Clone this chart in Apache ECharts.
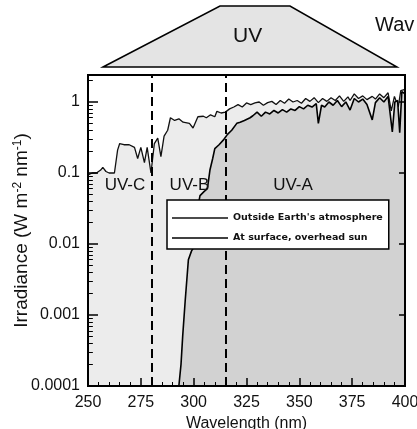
<!DOCTYPE html>
<html>
<head>
<meta charset="utf-8">
<script src="https://cdn.jsdelivr.net/npm/echarts@6/dist/echarts.min.js"></script>
<style>
  html, body { margin: 0; padding: 0; background: #fff; }
  #main { width: 417px; height: 429px; }
</style>
</head>
<body>
<div id="main"></div>
<script>
// spectrum outside the atmosphere
var outsideWl = [250, 252, 254, 256, 257, 258.5, 260, 262.5, 264, 265, 267, 269.5, 272, 273.5, 275, 276.7, 278, 279.8,
  281.4, 283, 284.5, 286, 287.7, 289, 291, 293, 295, 298, 299.7, 302, 304.6, 306, 308, 310, 311, 313, 315, 317,
  319, 321, 323, 325, 327, 329, 331, 333, 335, 337, 339, 341, 343, 345, 347, 349, 351, 353, 355, 357, 359, 361,
  363, 365, 367, 369, 371, 373, 374, 376, 378, 380, 382, 384.5, 386, 388, 390, 392, 393.5, 395, 396.8, 398, 400];
var outsideVal = [0.094, 0.1, 0.1, 0.11, 0.12, 0.105, 0.1, 0.1, 0.21, 0.26, 0.25, 0.25, 0.23, 0.16, 0.23, 0.14, 0.23, 0.1,
  0.26, 0.31, 0.17, 0.33, 0.4, 0.6, 0.55, 0.58, 0.52, 0.5, 0.43, 0.62, 0.63, 0.6, 0.66, 0.62, 0.74, 0.7, 0.72, 0.8,
  0.85, 0.92, 0.85, 0.97, 0.92, 0.97, 1.0, 0.9, 0.98, 1.02, 0.92, 1.05, 0.96, 1.1, 1.0, 1.05, 0.96, 1.12, 1.02, 1.15, 0.98, 1.12,
  1.02, 1.15, 1.05, 1.22, 1.02, 1.18, 1.05, 1.3, 1.12, 1.22, 1.08, 1.2, 1.1, 1.3, 1.15, 1.35, 0.75, 1.2, 0.85, 1.45, 1.5];

// spectrum at the surface, overhead sun
var surfaceWl = [293, 294, 294.8, 296, 297.5, 299, 300.6, 301.7, 303, 305, 306.5, 307.7, 309, 310, 312, 314, 316, 318,
  320.4, 322, 324, 326.7, 328, 330, 332, 334, 336, 338, 340, 342, 344, 346, 348, 350, 352, 354, 356, 358, 359,
  360.5, 362, 364, 366, 368, 370, 372, 374, 376, 378, 380, 382, 384.5, 386, 388, 390, 392, 394, 395.2, 396.5,
  397.5, 398.5, 400];
var surfaceVal = [0.0001, 0.0002, 0.0005, 0.0016, 0.006, 0.008, 0.0095, 0.03, 0.048, 0.055, 0.06, 0.11, 0.16, 0.22, 0.25, 0.29, 0.35, 0.4,
  0.5, 0.52, 0.55, 0.6, 0.64, 0.72, 0.63, 0.72, 0.68, 0.76, 0.7, 0.78, 0.72, 0.8, 0.76, 0.86, 0.8, 0.9, 0.85, 0.95, 0.5,
  0.9, 0.85, 1.0, 0.9, 1.05, 0.86, 1.0, 0.77, 1.12, 1.0, 1.1, 0.92, 0.56, 0.98, 1.15, 1.0, 1.2, 0.38, 1.0, 1.05,
  0.37, 1.4, 1.3];

var bandEdges = [280, 315];
var bandLabels = [
  { name: 'UV-C', x: 267.5, y: 0.068 },
  { name: 'UV-B', x: 298, y: 0.068 },
  { name: 'UV-A', x: 347, y: 0.068 }
];
// minor ticks of the log axis: 2..9 in each decade
var decades = [0.0001, 0.001, 0.01, 0.1, 1];
var minorSteps = [2, 3, 4, 5, 6, 7, 8, 9];

var font = 'Liberation Sans';
var chart = echarts.init(document.getElementById('main'));

function pairs(xs, ys) {
  return xs.map(function (x, i) { return [x, ys[i]]; });
}

var minorTickLines = [];
decades.forEach(function (d) {
  minorSteps.forEach(function (m) {
    var v = d * m;
    if (v < 2.4) minorTickLines.push([{ coord: [250, v] }, { coord: [252.3, v] }]);
  });
});

chart.setOption({
  animation: false,
  backgroundColor: '#fff',
  textStyle: { fontFamily: font, color: '#111' },
  grid: {
    left: 88, right: 12, top: 75, bottom: 43,
    outerBoundsMode: 'none',
    show: true, borderColor: '#000', borderWidth: 2, backgroundColor: '#fff'
  },
  legend: {
    orient: 'vertical',
    left: 167, top: 200,
    padding: [13, 6, 6, 5],
    itemGap: 10,
    icon: 'rect',
    itemWidth: 56, itemHeight: 1.6,
    backgroundColor: '#fff',
    borderColor: '#000', borderWidth: 1.5,
    textStyle: { fontFamily: 'DejaVu Sans', fontSize: 9.5, fontWeight: 'bold', color: '#111', width: 150 },
    data: ['Outside Earth\'s atmosphere', 'At surface, overhead sun'],
    z: 10
  },
  xAxis: {
    type: 'value', min: 250, max: 400, interval: 25, z: 5,
    name: 'Wavelength (nm)', nameLocation: 'middle', nameGap: 25,
    nameTextStyle: { fontSize: 16, fontFamily: font, color: '#111' },
    axisLine: { lineStyle: { color: '#000', width: 2 } },
    axisTick: { inside: true, length: 8, lineStyle: { color: '#000', width: 1.5 } },
    minorTick: { show: true, splitNumber: 5, length: 4, lineStyle: { color: '#000', width: 1 } },
    axisLabel: { fontSize: 16, margin: 9, color: '#111', fontFamily: font },
    splitLine: { show: false }
  },
  yAxis: [{
    type: 'log', logBase: 10, min: 0.0001, max: 2.4, z: 5,
    name: 'Irradiance (W m{s|-2} nm{s|-1})', nameLocation: 'middle', nameGap: 57, nameRotate: 90,
    nameMoveOverlap: false,
    nameTextStyle: {
      fontSize: 19, fontFamily: font, color: '#111',
      rich: { s: { fontSize: 12, verticalAlign: 'top', fontFamily: font, color: '#111' } }
    },
    axisLine: { show: true, lineStyle: { color: '#000', width: 2 } },
    axisTick: { inside: true, length: 10, lineStyle: { color: '#000', width: 1.5 } },
    axisLabel: {
      fontSize: 16, margin: 8, color: '#111', fontFamily: font, showMaxLabel: false,
      formatter: function (v) {
        var e = Math.round(Math.log10(v));
        return e >= 0 ? String(Math.pow(10, e)) : Math.pow(10, e).toFixed(-e);
      }
    },
    splitLine: { show: false }
  }, {
    type: 'log', logBase: 10, min: 0.0001, max: 2.4, position: 'right', z: 5,
    axisLine: { show: true, lineStyle: { color: '#000', width: 2 } },
    axisTick: { inside: true, length: 6, lineStyle: { color: '#000', width: 1.5 } },
    axisLabel: { show: false },
    splitLine: { show: false }
  }],
  series: [
    {
      name: 'Outside Earth\'s atmosphere',
      type: 'line',
      data: pairs(outsideWl, outsideVal),
      symbol: 'none',
      lineStyle: { color: '#111', width: 1.3 },
      itemStyle: { color: '#111' },
      areaStyle: { origin: 'start', color: '#ececec', opacity: 1 },
      z: 2,
      markLine: {
        silent: true, symbol: 'none', label: { show: false },
        lineStyle: { color: '#000', type: [9, 5], width: 2 },
        data: bandEdges.map(function (x) { return { xAxis: x }; })
      }
    },
    {
      name: 'At surface, overhead sun',
      type: 'line',
      data: pairs(surfaceWl, surfaceVal),
      symbol: 'none',
      lineStyle: { color: '#000', width: 1.6 },
      itemStyle: { color: '#000' },
      areaStyle: { origin: 'start', color: '#d2d2d2', opacity: 1 },
      z: 3,
      markPoint: {
        symbol: 'circle', symbolSize: 0, silent: true,
        label: { show: true, position: 'inside', fontSize: 17, fontFamily: font, color: '#111', formatter: '{b}' },
        data: bandLabels.map(function (d) { return { name: d.name, coord: [d.x, d.y] }; })
      }
    },
    {
      name: 'minor ticks',
      type: 'line',
      data: [],
      z: 6,
      markLine: {
        silent: true, symbol: 'none', label: { show: false },
        lineStyle: { color: '#000', type: 'solid', width: 1 },
        data: minorTickLines
      }
    }
  ],
  graphic: [
    {
      type: 'polygon',
      shape: { points: [[103, 67], [220, 6], [290, 6], [397, 67]] },
      style: { fill: '#e4e4e4', stroke: '#000', lineWidth: 1.5 }
    },
    {
      type: 'text', left: 233, top: 26,
      style: { text: 'UV', fontSize: 21, fontFamily: font, fill: '#111' }
    },
    {
      type: 'text', left: 375, top: 15,
      style: { text: 'Wav', fontSize: 20, fontFamily: font, fill: '#111' }
    }
  ]
});
</script>
</body>
</html>
